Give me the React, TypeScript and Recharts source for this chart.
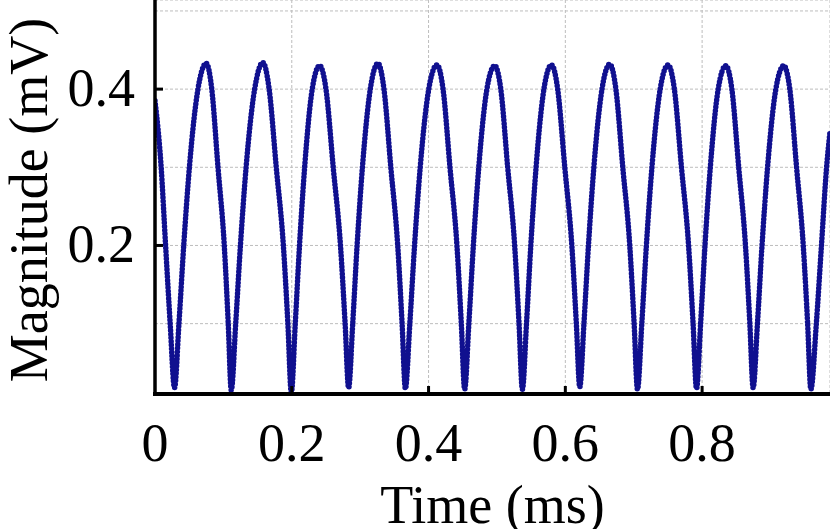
import React from "react";
import { LineChart, Line, XAxis, YAxis, CartesianGrid, Label } from "recharts";

// Time (ms) of samples
const timeMs: number[] = [
  0, 0.009, 0.0155, 0.0222, 0.0285,
  0.035, 0.042, 0.0503, 0.0628, 0.0749, 0.083, 0.0921, 0.1013, 0.1071, 0.1115,
  0.118, 0.1249, 0.1332, 0.1457, 0.1577, 0.1669, 0.1773, 0.1877, 0.1943, 0.1993,
  0.2051, 0.2113, 0.2188, 0.2299, 0.2407, 0.25, 0.2606, 0.2712, 0.278, 0.2831,
  0.2891, 0.2955, 0.3033, 0.3148, 0.326, 0.3348, 0.3448, 0.3549, 0.3613, 0.3661,
  0.3726, 0.3795, 0.3878, 0.4003, 0.4123, 0.4212, 0.4313, 0.4415, 0.4479, 0.4528,
  0.4589, 0.4655, 0.4734, 0.4853, 0.4967, 0.5056, 0.5157, 0.5259, 0.5323, 0.5372,
  0.5432, 0.5495, 0.5572, 0.5687, 0.5797, 0.5888, 0.5992, 0.6095, 0.6161, 0.6211,
  0.6272, 0.6338, 0.6417, 0.6536, 0.665, 0.6739, 0.684, 0.6942, 0.7006, 0.7055,
  0.7118, 0.7185, 0.7266, 0.7387, 0.7503, 0.7594, 0.7698, 0.7802, 0.7868, 0.7918,
  0.7978, 0.8042, 0.812, 0.8235, 0.8347, 0.8435, 0.8535, 0.8634, 0.8698, 0.8746,
  0.8809, 0.8876, 0.8957, 0.9078, 0.9195, 0.9282, 0.9381, 0.9479, 0.9543, 0.959,
  0.967, 0.9745, 0.982, 0.987,
];

// Magnitude (mV) at those samples
const magnitudeMv: number[] = [
  0.385, 0.3, 0.2, 0.1, 0.018,
  0.1, 0.2, 0.3, 0.4, 0.433, 0.4, 0.3, 0.2, 0.1, 0.015,
  0.1, 0.2, 0.3, 0.4, 0.434, 0.4, 0.3, 0.2, 0.1, 0.012,
  0.1, 0.2, 0.3, 0.4, 0.43, 0.4, 0.3, 0.2, 0.1, 0.018,
  0.1, 0.2, 0.3, 0.4, 0.433, 0.4, 0.3, 0.2, 0.1, 0.017,
  0.1, 0.2, 0.3, 0.4, 0.431, 0.4, 0.3, 0.2, 0.1, 0.016,
  0.1, 0.2, 0.3, 0.4, 0.43, 0.4, 0.3, 0.2, 0.1, 0.016,
  0.1, 0.2, 0.3, 0.4, 0.431, 0.4, 0.3, 0.2, 0.1, 0.019,
  0.1, 0.2, 0.3, 0.4, 0.432, 0.4, 0.3, 0.2, 0.1, 0.016,
  0.1, 0.2, 0.3, 0.4, 0.431, 0.4, 0.3, 0.2, 0.1, 0.017,
  0.1, 0.2, 0.3, 0.4, 0.43, 0.4, 0.3, 0.2, 0.1, 0.018,
  0.1, 0.2, 0.3, 0.4, 0.43, 0.4, 0.3, 0.2, 0.1, 0.016,
  0.1, 0.2, 0.3, 0.345,
];

const xTicks: number[] = [0, 0.2, 0.4, 0.6, 0.8];
const xTickLabels: string[] = ["0", "0.2", "0.4", "0.6", "0.8"];
const yGridTicks: number[] = [0.1, 0.2, 0.3, 0.4, 0.5];
const yLabeledTicks: number[] = [0.2, 0.4];
const yTickLabels: string[] = ["0.2", "0.4"];

const data = timeMs.map((t, i) => ({ t, v: magnitudeMv[i] }));

const FONT = "'Liberation Serif', 'Times New Roman', serif";
const FS = 54;

const XTick = (props: any) => {
  const { x, y, payload } = props;
  const idx = xTicks.indexOf(payload.value);
  return (
    <g>
      {payload.value !== 0 && (
        <line x1={x} x2={x} y1={y} y2={y - 8} stroke="#000" strokeWidth={3} />
      )}
      <text x={x} y={y + 67} textAnchor="middle" fontFamily={FONT} fontSize={FS} fill="#000">
        {idx >= 0 ? xTickLabels[idx] : ""}
      </text>
    </g>
  );
};

const YTick = (props: any) => {
  const { x, y, payload } = props;
  const idx = yLabeledTicks.indexOf(payload.value);
  if (idx < 0) return <g />;
  return (
    <g>
      <line x1={x} x2={x + 8} y1={y} y2={y} stroke="#000" strokeWidth={3} />
      <text x={x - 20} y={y + 17} textAnchor="end" fontFamily={FONT} fontSize={FS} fill="#000">
        {yTickLabels[idx]}
      </text>
    </g>
  );
};

const XTitle = (props: any) => {
  const vb = props.viewBox || {};
  return (
    <text
      x={vb.x + vb.width / 2}
      y={vb.y + 129}
      textAnchor="middle"
      fontFamily={FONT}
      fontSize={FS}
      fill="#000"
    >
      Time (ms)
    </text>
  );
};

const YTitle = (props: any) => {
  const vb = props.viewBox || {};
  const cx = vb.x + 47;
  const cy = vb.y + vb.height / 2 + 3;
  return (
    <text
      x={cx}
      y={cy}
      transform={`rotate(-90, ${cx}, ${cy})`}
      textAnchor="middle"
      fontFamily={FONT}
      fontSize={FS}
      fill="#000"
    >
      Magnitude (mV)
    </text>
  );
};

export default function App() {
  return (
    <div style={{ width: 830, height: 529, background: "#fff" }}>
      <style>{`body{margin:0;background:#fff;}`}</style>
      <LineChart
        width={830}
        height={529}
        data={data}
        margin={{ top: 0, right: 0, bottom: 0, left: 0 }}
      >
        <CartesianGrid stroke="#bdbdbd" strokeDasharray="3 2" strokeWidth={1} />
        <XAxis
          dataKey="t"
          type="number"
          domain={[0, 0.987]}
          allowDataOverflow
          ticks={xTicks}
          height={135}
          tickSize={0}
          tickMargin={0}
          tickLine={false}
          tick={<XTick />}
          axisLine={{ stroke: "#000", strokeWidth: 4, strokeLinecap: "square" } as any}
          interval={0}
        >
          <Label content={<XTitle />} />
        </XAxis>
        <YAxis
          type="number"
          domain={[0.01, 0.514]}
          allowDataOverflow
          ticks={yGridTicks}
          width={155}
          tickSize={0}
          tickMargin={0}
          tickLine={false}
          tick={<YTick />}
          axisLine={{ stroke: "#000", strokeWidth: 3.5, strokeLinecap: "square" } as any}
          interval={0}
        >
          <Label content={<YTitle />} />
        </YAxis>
        <Line
          dataKey="v"
          type="monotone"
          stroke="#10108f"
          strokeWidth={5.5}
          strokeLinecap="round"
          strokeLinejoin="round"
          strokeDasharray="0 3.6"
          dot={false}
          activeDot={false}
          isAnimationActive={false}
        />
      </LineChart>
    </div>
  );
}
